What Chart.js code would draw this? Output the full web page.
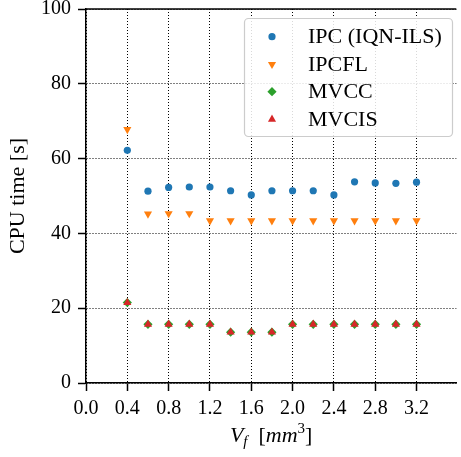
<!DOCTYPE html>
<html>
<head>
<meta charset="utf-8">
<script src="https://cdn.jsdelivr.net/npm/chart.js@4.4.0/dist/chart.umd.min.js"></script>
<style>
  html, body { margin: 0; padding: 0; background: #fff; }
  canvas { display: block; }
</style>
</head>
<body>
<canvas id="cpu-chart" width="461" height="457"></canvas>
<script>
// fluid volume (mm^3) for each run
var volumes = [0.4, 0.6, 0.8, 1.0, 1.2, 1.4, 1.6, 1.8, 2.0, 2.2, 2.4, 2.6, 2.8, 3.0, 3.2]

// CPU time in seconds per method
var ipc   = [62.2, 51.3, 52.3, 52.4, 52.4, 51.4, 50.3, 51.4, 51.4, 51.4, 50.3, 53.8, 53.5, 53.4, 53.7]
var ipcfl = [67.8, 45.2, 45.3, 45.3, 43.4, 43.4, 43.4, 43.4, 43.4, 43.4, 43.4, 43.4, 43.4, 43.4, 43.4]
var mvcc  = [21.5, 15.7, 15.7, 15.7, 15.7, 13.6, 13.6, 13.6, 15.7, 15.7, 15.7, 15.7, 15.7, 15.7, 15.7]
var mvcis = [21.5, 15.7, 15.7, 15.7, 15.7, 13.6, 13.6, 13.6, 15.7, 15.7, 15.7, 15.7, 15.7, 15.7, 15.7]

var xTicks = [0.0, 0.4, 0.8, 1.2, 1.6, 2.0, 2.4, 2.8, 3.2]
var yTicks = [0, 20, 40, 60, 80, 100]

var serif = "'Liberation Serif', 'DejaVu Serif', serif"
Chart.defaults.font.family = serif
Chart.defaults.color = '#000'

function pts(ys) {
    return volumes.map(function(v, i) { return {x: v, y: ys[i]} })
}

// legend box in the upper right corner of the plot
var legendBox = {
    id: 'legendBox',
    afterDraw: function(chart) {
        var ctx = chart.ctx
        ctx.save()
        ctx.beginPath()
        ctx.roundRect(244.5, 18.5, 208, 118, 4)
        ctx.fillStyle = 'rgba(255,255,255,0.85)'
        ctx.fill()
        ctx.lineWidth = 1.2
        ctx.strokeStyle = '#cccccc'
        ctx.stroke()

        var rows = [36.7, 64.3, 91.7, 119.3]
        chart.data.datasets.forEach(function(ds, i) {
            ctx.fillStyle = ds.backgroundColor
            ctx.strokeStyle = ds.borderColor
            Chart.helpers.drawPoint(ctx, {
                pointStyle: ds.pointStyle,
                rotation: ds.pointRotation || 0,
                radius: ds.pointRadius,
                borderWidth: ds.borderWidth
            }, 272, rows[i])
            ctx.fillStyle = '#000'
            ctx.font = '22px ' + serif
            ctx.textBaseline = 'middle'
            ctx.textAlign = 'left'
            ctx.fillText(ds.label, 308, rows[i] + 1)
        })
        ctx.restore()
    }
}

// top spine and the x axis title with sub/superscript
var extras = {
    id: 'extras',
    afterDraw: function(chart) {
        var ctx = chart.ctx
        var a = chart.chartArea
        ctx.save()
        ctx.strokeStyle = '#000'
        ctx.lineWidth = 1.5
        ctx.beginPath()
        ctx.moveTo(a.left, a.top)
        ctx.lineTo(a.right, a.top)
        ctx.stroke()

        var parts = [
            {t: 'V', f: 'italic 22px ' + serif, dy: 0},
            {t: 'f', f: 'italic 15px ' + serif, dy: 4},
            {t: '  [', f: '22px ' + serif, dy: 0},
            {t: 'mm', f: 'italic 22px ' + serif, dy: 0},
            {t: '3', f: '15px ' + serif, dy: -9},
            {t: ']', f: '22px ' + serif, dy: 0}
        ]
        var total = 0
        parts.forEach(function(p) {
            ctx.font = p.f
            p.w = ctx.measureText(p.t).width
            total += p.w
        })
        var x = (a.left + a.right) / 2 - total / 2
        ctx.fillStyle = '#000'
        ctx.textBaseline = 'alphabetic'
        parts.forEach(function(p) {
            ctx.font = p.f
            ctx.fillText(p.t, x, 442 + p.dy)
            x += p.w
        })
        ctx.restore()
    }
}

var chart = new Chart(document.getElementById('cpu-chart').getContext('2d'), {
    type: 'scatter',
    data: {
        datasets: [
            {
                label: 'IPC (IQN-ILS)',
                data: pts(ipc),
                backgroundColor: '#1f77b4',
                borderColor: '#1f77b4',
                borderWidth: 0,
                pointStyle: 'circle',
                pointRadius: 3.6,
                order: 4
            },
            {
                label: 'IPCFL',
                data: pts(ipcfl),
                backgroundColor: '#ff7f0e',
                borderColor: '#ff7f0e',
                borderWidth: 0,
                pointStyle: 'triangle',
                pointRotation: 180,
                pointRadius: 4.7,
                order: 3
            },
            {
                label: 'MVCC',
                data: pts(mvcc),
                backgroundColor: '#2ca02c',
                borderColor: '#2ca02c',
                borderWidth: 0,
                pointStyle: 'rectRot',
                pointRadius: 4.6,
                order: 2
            },
            {
                label: 'MVCIS',
                data: pts(mvcis),
                backgroundColor: '#d62728',
                borderColor: '#d62728',
                borderWidth: 0,
                pointStyle: 'triangle',
                pointRadius: 4.7,
                order: 1
            }
        ]
    },
    options: {
        responsive: false,
        animation: false,
        layout: {padding: {top: 9, right: 0, left: 0, bottom: 0}},
        plugins: {
            legend: {display: false},
            tooltip: {enabled: false}
        },
        scales: {
            x: {
                type: 'linear',
                min: 0,
                max: 3.585,
                afterBuildTicks: function(scale) {
                    scale.ticks = xTicks.map(function(v) { return {value: v} })
                },
                afterFit: function(scale) {
                    scale.height = 74
                    scale.paddingLeft = 0
                    scale.paddingRight = 0
                },
                ticks: {
                    font: {size: 20},
                    padding: 6,
                    maxRotation: 0,
                    callback: function(v) { return v.toFixed(1) }
                },
                grid: {
                    color: '#000',
                    lineWidth: 1,
                    tickLength: 8,
                    tickColor: '#000',
                    tickWidth: 1.5
                },
                border: {color: '#000', width: 1.5, dash: [1, 2]}
            },
            y: {
                min: 0,
                max: 100,
                afterBuildTicks: function(scale) {
                    scale.ticks = yTicks.map(function(v) { return {value: v} })
                },
                afterFit: function(scale) {
                    scale.width = 86
                    scale.paddingTop = 0
                    scale.paddingBottom = 0
                },
                ticks: {
                    font: {size: 20},
                    padding: 7
                },
                title: {
                    display: true,
                    text: 'CPU time [s]',
                    font: {size: 22},
                    padding: {top: 5, bottom: 0}
                },
                grid: {
                    color: '#000',
                    lineWidth: 1,
                    tickLength: 8,
                    tickColor: '#000',
                    tickWidth: 1.5
                },
                border: {color: '#000', width: 1.5, dash: [1, 2]}
            }
        }
    },
    plugins: [legendBox, extras]
})
</script>
</body>
</html>
